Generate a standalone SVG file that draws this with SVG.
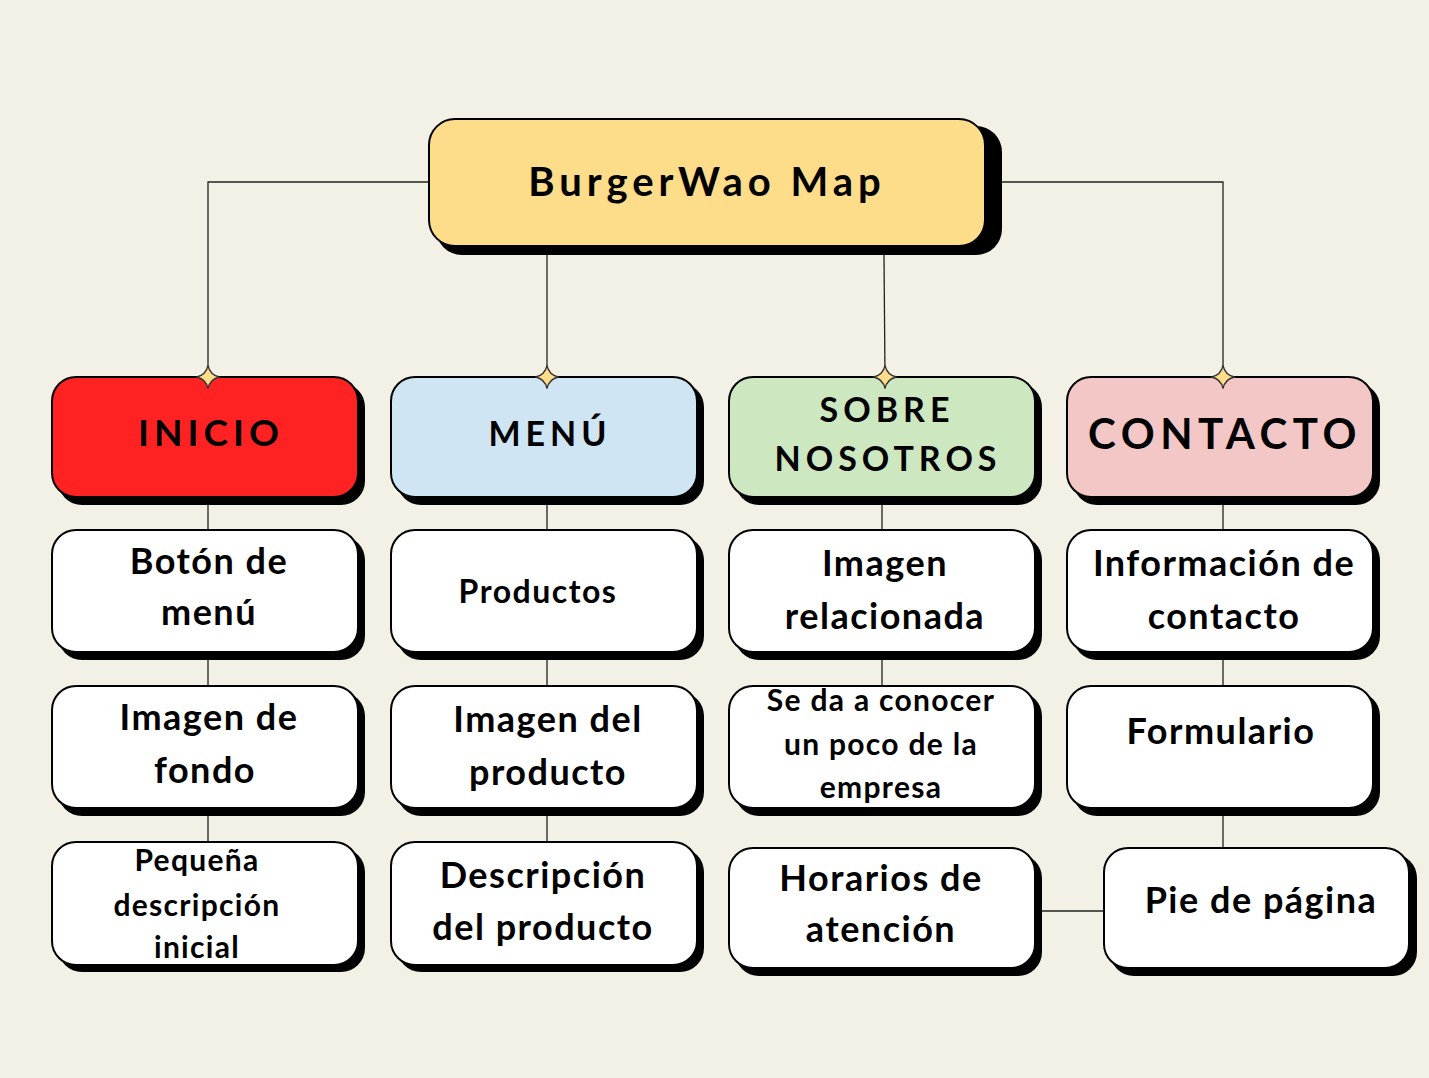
<svg xmlns="http://www.w3.org/2000/svg" width="1429" height="1078" viewBox="0 0 1429 1078">
<defs>
<style>
.bg{fill:#F3F1E6}
.sh{fill:#000}
.box{stroke:#000;stroke-width:2}
.w{fill:#FFFFFF}
.line{stroke:#222;stroke-width:1.3;fill:none}
text{font-family:"Lato","Open Sans",sans-serif;font-weight:700;fill:#000;text-anchor:middle}
.t34{font-size:36px;letter-spacing:1.5px}
.t30{font-size:32px;letter-spacing:1.5px}
.t28{font-size:30px;letter-spacing:1.3px}
</style>
<path id="star" d="M0,-11.5 Q2,-2 11.5,0 Q2,2 0,11.5 Q-2,2 -11.5,0 Q-2,-2 0,-11.5 Z" fill="#FDDC8A" stroke="#333" stroke-width="1.3"/>
</defs>
<rect class="bg" x="0" y="0" width="1429" height="1078"/>

<g id="connectors">
<path class="line" d="M429,182 H208 V377"/>
<path class="line" d="M1002,182 H1223 V377"/>
<path class="line" d="M547,255 V377"/>
<path class="line" d="M884,255 L885,377"/>
<path class="line" d="M208,505 V530 M208,660 V686 M208,816 V842"/>
<path class="line" d="M547,505 V530 M547,660 V686 M547,816 V842"/>
<path class="line" d="M882,505 V530 M882,660 V686"/>
<path class="line" d="M1223,505 V530 M1223,660 V686 M1223,816 V848"/>
<path class="line" d="M1040,911 H1104"/>
</g>

<g id="root">
<rect class="sh" x="436" y="126" width="566" height="129" rx="26"/>
<rect class="box" x="429" y="119" width="556" height="127" rx="26" fill="#FDDC8A"/>
<text x="707" y="196" font-size="40" letter-spacing="5">BurgerWao Map</text>
</g>

<g id="inicio">
<rect class="sh" x="58" y="383" width="307" height="122" rx="24"/>
<rect class="box" x="52" y="377" width="306" height="120" rx="24" fill="#FF2222"/>
<text x="211" y="446" font-size="37" letter-spacing="5">INICIO</text>
<use href="#star" x="208" y="377"/>
</g>

<g id="menu">
<rect class="sh" x="397" y="383" width="307" height="122" rx="24"/>
<rect class="box" x="391" y="377" width="306" height="120" rx="24" fill="#CFE5F3"/>
<text x="550" y="446" font-size="34" letter-spacing="5">MENÚ</text>
<use href="#star" x="547" y="377"/>
</g>

<g id="sobre">
<rect class="sh" x="735" y="383" width="307" height="122" rx="24"/>
<rect class="box" x="729" y="377" width="306" height="120" rx="24" fill="#CDE8C0"/>
<text x="887" y="422" font-size="34" letter-spacing="5">SOBRE</text>
<text x="888" y="471" font-size="34" letter-spacing="5">NOSOTROS</text>
<use href="#star" x="885" y="377"/>
</g>

<g id="contacto">
<rect class="sh" x="1073" y="383" width="307" height="122" rx="24"/>
<rect class="box" x="1067" y="377" width="306" height="120" rx="24" fill="#F2C7C5"/>
<text x="1225" y="449" font-size="42" letter-spacing="5.5">CONTACTO</text>
<use href="#star" x="1223" y="377"/>
</g>

<g id="boton">
<rect class="sh" x="58" y="536" width="307" height="124" rx="24"/>
<rect class="box w" x="52" y="530" width="306" height="122" rx="24"/>
<text x="209" y="574" class="t34">Botón de</text>
<text x="209" y="625" class="t34">menú</text>
</g>

<g id="productos">
<rect class="sh" x="397" y="536" width="307" height="124" rx="24"/>
<rect class="box w" x="391" y="530" width="306" height="122" rx="24"/>
<text x="538" y="603" class="t30">Productos</text>
</g>

<g id="imagenrel">
<rect class="sh" x="735" y="536" width="307" height="124" rx="24"/>
<rect class="box w" x="729" y="530" width="306" height="122" rx="24"/>
<text x="885" y="576" class="t34">Imagen</text>
<text x="885" y="629" class="t34">relacionada</text>
</g>

<g id="info">
<rect class="sh" x="1073" y="536" width="307" height="124" rx="24"/>
<rect class="box w" x="1067" y="530" width="306" height="122" rx="24"/>
<text x="1224" y="576" class="t34">Información de</text>
<text x="1224" y="629" class="t34">contacto</text>
</g>

<g id="imagenfondo">
<rect class="sh" x="58" y="692" width="307" height="124" rx="24"/>
<rect class="box w" x="52" y="686" width="306" height="122" rx="24"/>
<text x="209" y="730" class="t34">Imagen de</text>
<text x="205" y="783" class="t34">fondo</text>
</g>

<g id="imagenprod">
<rect class="sh" x="397" y="692" width="307" height="124" rx="24"/>
<rect class="box w" x="391" y="686" width="306" height="122" rx="24"/>
<text x="548" y="732" class="t34">Imagen del</text>
<text x="548" y="785" class="t34">producto</text>
</g>

<g id="sedaa">
<rect class="sh" x="735" y="692" width="307" height="124" rx="24"/>
<rect class="box w" x="729" y="686" width="306" height="122" rx="24"/>
<text x="881" y="711" class="t28">Se da a conocer</text>
<text x="881" y="755" class="t28">un poco de la</text>
<text x="881" y="798" class="t28">empresa</text>
</g>

<g id="formulario">
<rect class="sh" x="1073" y="692" width="307" height="124" rx="24"/>
<rect class="box w" x="1067" y="686" width="306" height="122" rx="24"/>
<text x="1221" y="744" class="t34">Formulario</text>
</g>

<g id="pequena">
<rect class="sh" x="58" y="848" width="307" height="124" rx="24"/>
<rect class="box w" x="52" y="842" width="306" height="123" rx="24"/>
<text x="197" y="871" class="t28">Pequeña</text>
<text x="197" y="916" class="t28">descripción</text>
<text x="197" y="958" class="t28">inicial</text>
</g>

<g id="descprod">
<rect class="sh" x="397" y="848" width="307" height="124" rx="24"/>
<rect class="box w" x="391" y="842" width="306" height="123" rx="24"/>
<text x="543" y="888" class="t34">Descripción</text>
<text x="543" y="940" class="t34">del producto</text>
</g>

<g id="horarios">
<rect class="sh" x="735" y="854" width="307" height="122" rx="24"/>
<rect class="box w" x="729" y="848" width="306" height="120" rx="24"/>
<text x="881" y="891" class="t34">Horarios de</text>
<text x="881" y="942" class="t34">atención</text>
</g>

<g id="pie">
<rect class="sh" x="1110" y="854" width="307" height="122" rx="24"/>
<rect class="box w" x="1104" y="848" width="305" height="120" rx="24"/>
<text x="1261" y="913" class="t34">Pie de página</text>
</g>
</svg>
